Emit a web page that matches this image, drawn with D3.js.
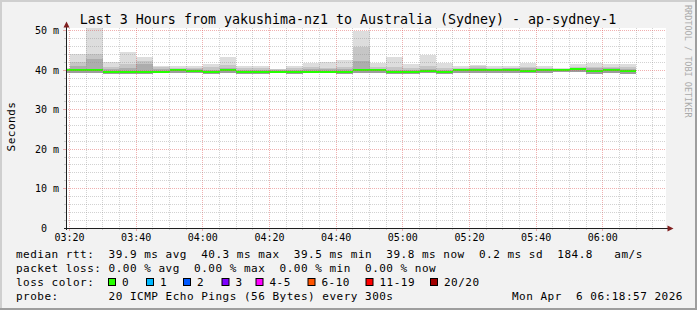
<!DOCTYPE html>
<html>
<head>
<meta charset="utf-8">
<script src="https://cdn.jsdelivr.net/npm/d3@7"></script>
<style>
  html, body { margin: 0; padding: 0; background: #fff; }
  svg text { font-family: "DejaVu Sans Mono", monospace; fill: #000; white-space: pre; }
</style>
</head>
<body>
<div id="chart"></div>
<script>
// smokeping latency graph: 5 minute bins, smoke = spread of the 20 pings
var binTimes = ["03:15", "03:20", "03:25", "03:30", "03:35", "03:40", "03:45", "03:50", "03:55",
                "04:00", "04:05", "04:10", "04:15", "04:20", "04:25", "04:30", "04:35", "04:40",
                "04:45", "04:50", "04:55", "05:00", "05:05", "05:10", "05:15", "05:20", "05:25",
                "05:30", "05:35", "05:40", "05:45", "05:50", "05:55", "06:00", "06:05"];

// ms
var maxMs    = [40.6, 44.2, 50.9, 42.1, 44.6, 43.3, 41.2, 41.2, 41.0, 41.5, 43.3, 41.0, 41.0, 40.4, 41.0, 41.9, 42.1, 42.7,
                49.9, 41.8, 43.3, 41.5, 44.0, 41.8, 41.0, 41.4, 41.2, 41.0, 41.8, 41.0, 40.7, 41.5, 41.8, 41.5, 41.5];
var upperMs  = [40.4, 42.2, 44.2, 40.8, 41.5, 42.3, 40.8, 40.6, 40.5, 40.8, 41.3, 40.6, 40.5, 40.3, 40.6, 40.8, 40.7, 40.8,
                46.0, 40.8, 40.8, 40.5, 41.0, 40.6, 40.5, 41.0, 40.7, 40.6, 40.9, 40.5, 40.4, 40.8, 40.9, 40.9, 40.8];
var innerMs  = [40.3, 41.0, 42.8, 40.3, 40.6, 41.5, 40.3, 40.4, 40.3, 40.2, 40.6, 40.2, 40.1, 40.1, 40.2, 40.3, 40.3, 40.4,
                42.5, 40.4, 40.2, 40.1, 40.3, 40.2, 40.4, 40.6, 40.4, 40.5, 40.5, 40.4, 40.3, 40.7, 40.5, 40.6, 40.3];
var medianMs = [40.2, 40.2, 40.1, 39.6, 39.6, 39.7, 39.7, 40.0, 39.9, 39.5, 40.0, 39.5, 39.7, 39.7, 39.6, 39.7, 39.7, 39.7,
                40.0, 40.0, 39.5, 39.6, 39.9, 39.5, 40.1, 40.0, 40.0, 40.1, 39.9, 40.0, 40.0, 40.3, 39.9, 40.0, 39.8];
var minMs    = [39.3, 39.4, 39.3, 39.1, 39.2, 39.1, 39.3, 39.4, 39.3, 39.1, 39.4, 39.1, 39.2, 39.3, 39.1, 39.3, 39.3, 39.2,
                39.3, 39.4, 39.1, 39.2, 39.4, 39.0, 39.4, 39.3, 39.4, 39.4, 39.3, 39.4, 39.5, 39.6, 39.2, 39.3, 39.1];

var xTickLabels = ["03:20", "03:40", "04:00", "04:20", "04:40", "05:00", "05:20", "05:40", "06:00"];
var yTickValues = [0, 10, 20, 30, 40, 50];
var yTickLabels = [" 0", "10 m", "20 m", "30 m", "40 m", "50 m"];

var rttStats  = [39.9, 40.3, 39.5, 39.8];   // avg, max, min, now
var rttSd     = 0.2;
var amPerS    = 184.8;
var lossStats = [0, 0, 0, 0];               // avg, max, min, now
var lossLabels = ["0", "1", "2", "3", "4-5", "6-10", "11-19", "20/20"];
var lossColors = ["#26ff00", "#00b8ff", "#0059ff", "#7e00ff", "#ff00ff", "#ff5500", "#ff0000", "#a10000"];

var titleText = "Last 3 Hours from yakushima-nz1 to Australia (Sydney) - ap-sydney-1";
var probeText = "20 ICMP Echo Pings (56 Bytes) every 300s";
var stampText = "Mon Apr  6 06:18:57 2026";

(function() {

  var W = 697, H = 310
      , plot = {left: 66, right: 666, top: 28, bottom: 228}
      , f1 = d3.format(".1f")
      , f2 = d3.format(".2f")
      ;

  function toDate(s) {
    var p = s.split(":");
    return new Date(2026, 3, 6, +p[0], +p[1], 0);
  }

  var t0 = new Date(2026, 3, 6, 3, 18, 57)
      , t1 = new Date(2026, 3, 6, 6, 18, 57)
      ;

  var x = d3.scaleTime().domain([t0, t1]).range([plot.left, plot.right])
      , y = d3.scaleLinear().domain([0, 50.76]).range([plot.bottom, plot.top])
      ;

  var svg = d3.select("#chart").append("svg")
      .attr("width", W).attr("height", H);

  // background + 3d shade border
  svg.append("rect").attr("width", W).attr("height", H).attr("fill", "#f2f2f2");
  svg.append("rect").attr("x", 0).attr("y", 0).attr("width", W).attr("height", 2).attr("fill", "#cfcfcf");
  svg.append("rect").attr("x", 0).attr("y", 0).attr("width", 2).attr("height", H).attr("fill", "#cfcfcf");
  svg.append("rect").attr("x", 0).attr("y", H - 2).attr("width", W).attr("height", 2).attr("fill", "#9e9e9e");
  svg.append("rect").attr("x", W - 2).attr("y", 0).attr("width", 2).attr("height", H).attr("fill", "#9e9e9e");

  // canvas
  svg.append("rect")
      .attr("x", plot.left).attr("y", plot.top)
      .attr("width", plot.right - plot.left).attr("height", plot.bottom - plot.top)
      .attr("fill", "#fff");

  svg.append("clipPath").attr("id", "plotclip")
    .append("rect")
      .attr("x", plot.left).attr("y", plot.top)
      .attr("width", plot.right - plot.left).attr("height", plot.bottom - plot.top);

  var bins = binTimes.map(function(s, i) {
    var start = toDate(s);
    return {
      start: start,
      end: d3.timeMinute.offset(start, 5),
      max: maxMs[i], upper: upperMs[i], inner: innerMs[i],
      median: medianMs[i], min: minMs[i]
    };
  });

  var g = svg.append("g").attr("clip-path", "url(#plotclip)");

  // smoke, lightest first
  var bands = [
    {key: "max", color: "#dddddd"},
    {key: "upper", color: "#c6c6c6"},
    {key: "inner", color: "#adadad"},
    {key: "median", color: "#9c9c9c"}
  ];
  bands.forEach(function(b) {
    g.append("g").attr("shape-rendering", "crispEdges")
      .selectAll("rect").data(bins).join("rect")
        .attr("x", function(d) { return x(d.start); })
        .attr("width", function(d) { return x(d.end) - x(d.start); })
        .attr("y", function(d) { return y(d[b.key]); })
        .attr("height", function(d) { return y(d.min) - y(d[b.key]); })
        .attr("fill", b.color);
  });

  // median, coloured by loss (all 0 here)
  g.append("g").attr("shape-rendering", "crispEdges")
    .selectAll("rect").data(bins).join("rect")
      .attr("x", function(d) { return x(d.start); })
      .attr("width", function(d) { return x(d.end) - x(d.start); })
      .attr("y", function(d) { return Math.round(y(d.median)) - 1; })
      .attr("height", 2)
      .attr("fill", lossColors[0]);

  // grid on top, rrdtool style
  var minorCol = "rgba(143,143,143,0.4)"
      , majorCol = "rgba(222,79,79,0.45)"
      , vMinor = d3.timeMinute.every(5).range(t0, t1)
      , hMinor = d3.range(2, 51, 2)
      , grid = svg.append("g").attr("shape-rendering", "crispEdges")
      ;

  vMinor.forEach(function(t) {
    var major = t.getMinutes() % 20 === 0
        , px = Math.floor(x(t)) + 0.5
        ;
    grid.append("line")
        .attr("x1", px).attr("x2", px)
        .attr("y1", plot.top).attr("y2", plot.bottom)
        .attr("stroke", major ? majorCol : minorCol)
        .attr("stroke-dasharray", "1,1");
    grid.append("line")
        .attr("x1", px).attr("x2", px)
        .attr("y1", plot.bottom).attr("y2", plot.bottom + (major ? 3 : 2))
        .attr("stroke", major ? majorCol : minorCol);
  });

  hMinor.forEach(function(v) {
    var major = v % 10 === 0
        , py = Math.floor(y(v)) + 0.5
        ;
    grid.append("line")
        .attr("x1", plot.left).attr("x2", plot.right)
        .attr("y1", py).attr("y2", py)
        .attr("stroke", major ? majorCol : minorCol)
        .attr("stroke-dasharray", "1,1");
    grid.append("line")
        .attr("x1", plot.left - (major ? 3 : 2)).attr("x2", plot.left)
        .attr("y1", py).attr("y2", py)
        .attr("stroke", major ? majorCol : minorCol);
  });

  // axes with arrows
  var axisCol = "#1f1f1f", arrowCol = "#801f1f";
  svg.append("line")
      .attr("x1", plot.left + 0.5).attr("x2", plot.left + 0.5)
      .attr("y1", plot.bottom + 2).attr("y2", plot.top - 1)
      .attr("stroke", axisCol).attr("shape-rendering", "crispEdges");
  svg.append("line")
      .attr("x1", plot.left - 2).attr("x2", plot.right + 2)
      .attr("y1", plot.bottom + 0.5).attr("y2", plot.bottom + 0.5)
      .attr("stroke", axisCol).attr("shape-rendering", "crispEdges");
  svg.append("path")
      .attr("d", "M" + (plot.left + 0.5) + "," + (plot.top - 6.5) +
                 "L" + (plot.left + 3.5) + "," + (plot.top - 0.5) +
                 "L" + (plot.left - 2.5) + "," + (plot.top - 0.5) + "Z")
      .attr("fill", arrowCol);
  svg.append("path")
      .attr("d", "M" + (plot.right + 7.5) + "," + (plot.bottom + 0.5) +
                 "L" + (plot.right + 1.5) + "," + (plot.bottom - 2.5) +
                 "L" + (plot.right + 1.5) + "," + (plot.bottom + 3.5) + "Z")
      .attr("fill", arrowCol);

  // axis labels
  svg.append("g").selectAll("text").data(yTickValues).join("text")
      .attr("x", 35)
      .attr("y", function(d) { return y(d) + 3.5; })
      .attr("font-size", "10px")
      .text(function(d, i) { return yTickLabels[i]; });

  svg.append("g").selectAll("text").data(xTickLabels).join("text")
      .attr("x", function(d) { return x(toDate(d)); })
      .attr("y", 240.5)
      .attr("text-anchor", "middle")
      .attr("font-size", "10px")
      .text(function(d) { return d; });

  svg.append("text")
      .attr("transform", "translate(14.5,126.5) rotate(-90)")
      .attr("text-anchor", "middle")
      .attr("font-size", "11px")
      .attr("letter-spacing", "0.5px")
      .text("Seconds");

  svg.append("text")
      .attr("x", 348).attr("y", 24)
      .attr("text-anchor", "middle")
      .attr("font-size", "13.3px")
      .text(titleText);

  svg.append("text")
      .attr("transform", "translate(684.5,5) rotate(90)")
      .attr("font-size", "8.5px")
      .style("fill", "#aaaaaa")
      .text("RRDTOOL / TOBI OETIKER");

  // legend rows
  function legendRow(str, px, py) {
    return svg.append("text")
        .attr("x", px).attr("y", py)
        .attr("font-size", "11px")
        .attr("letter-spacing", "0.5px")
        .text(str);
  }

  legendRow("median rtt:  " + f1(rttStats[0]) + " ms avg  " + f1(rttStats[1]) + " ms max  " +
            f1(rttStats[2]) + " ms min  " + f1(rttStats[3]) + " ms now  " + f1(rttSd) + " ms sd  " +
            f1(amPerS) + "   am/s", 16, 258);
  legendRow("packet loss: " + f2(lossStats[0]) + " % avg  " + f2(lossStats[1]) + " % max  " +
            f2(lossStats[2]) + " % min  " + f2(lossStats[3]) + " % now", 16, 272);
  legendRow("loss color:", 16, 285.5);

  var boxX = [108, 146, 183, 221.5, 255.5, 307.5, 365.5, 430];
  lossLabels.forEach(function(lab, i) {
    svg.append("rect")
        .attr("x", boxX[i] + 0.5).attr("y", 278.5)
        .attr("width", 7).attr("height", 7)
        .attr("fill", lossColors[i])
        .attr("stroke", "#000").attr("stroke-width", 1);
    legendRow(lab, boxX[i] + 14, 285.5);
  });

  legendRow("probe:       " + probeText, 16, 299.5);
  legendRow(stampText, 512, 299.5);

})();
</script>
</body>
</html>
